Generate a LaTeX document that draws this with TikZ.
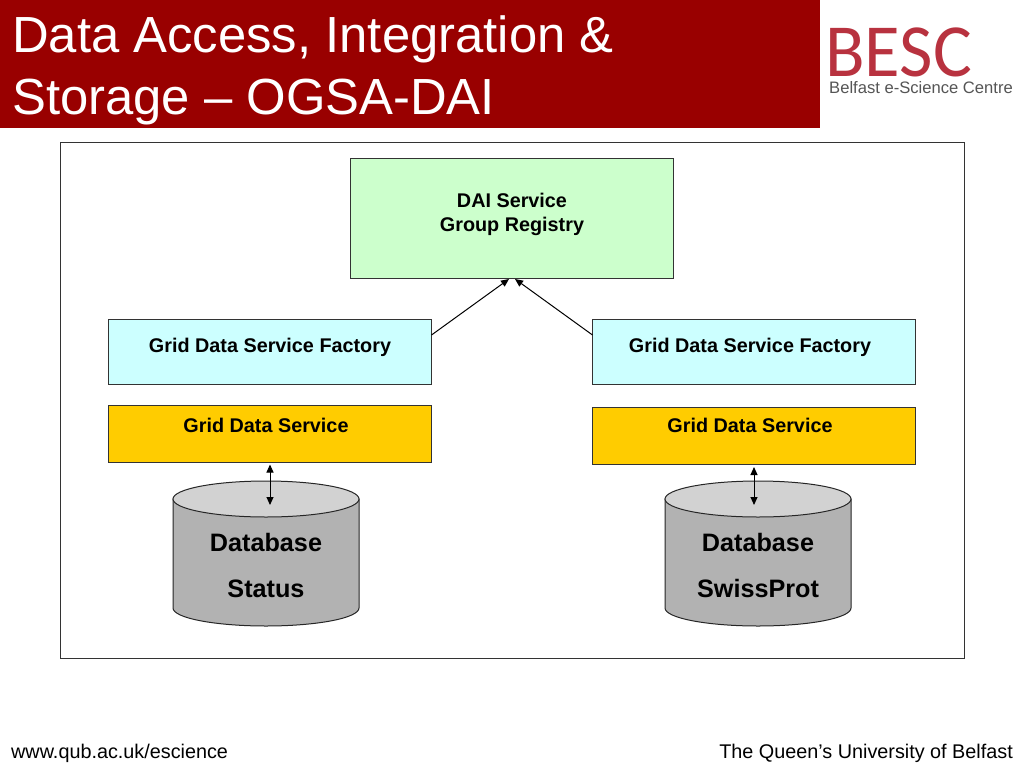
\documentclass[tikz,border=0pt]{standalone}
\usepackage{fontspec}
\setmainfont{Liberation Sans}
\newfontfamily\logofont{Carlito}
\usetikzlibrary{shapes.geometric,arrows.meta}
\definecolor{titlered}{HTML}{990000}
\definecolor{logored}{HTML}{B8323F}
\definecolor{logogrey}{HTML}{555555}
\definecolor{regfill}{HTML}{CCFFCC}
\definecolor{factoryfill}{HTML}{CCFFFF}
\definecolor{servicefill}{HTML}{FFCC00}
\definecolor{dbbody}{HTML}{B2B2B2}
\definecolor{dbtop}{HTML}{D2D2D2}
\tikzset{
  boxnode/.style={draw=black!80,line width=1pt,minimum width=323,minimum height=#1,inner sep=0},
  boxlabel/.style={anchor=base,inner sep=0,align=center,font=\bfseries\fontsize{19.8}{24}\selectfont},
  dbbarrel/.style={draw=black!85,line width=1pt,fill=dbbody},
  dbnode/.style={ellipse,draw=black!85,line width=1pt,fill=dbtop,minimum width=186,minimum height=36,inner sep=0},
  dblabel/.style={inner sep=0,align=center,font=\bfseries\fontsize{25.2}{46}\selectfont},
  link/.style={line width=1pt,black,-{Triangle[length=8pt,width=7pt]}},
  dblink/.style={line width=1pt,black,{Triangle[length=8pt,width=7pt]}-{Triangle[length=8pt,width=7pt]}},
  footer/.style={inner sep=0,font=\fontsize{19.8}{24}\selectfont}
}
\begin{document}
\begin{tikzpicture}[x=1pt,y=-1pt]
\useasboundingbox[fill=white] (0,0) rectangle (1024,768);
\fill[titlered] (0,0) rectangle (820,128);
\node[anchor=base west,inner sep=0,text=white,align=left,font=\fontsize{50.8}{62}\selectfont] (title) at (12,114.5) {Data Access, Integration \&\\Storage -- OGSA-DAI};
\node[anchor=base west,inner sep=0,text=logored,xscale=0.97,font=\logofont\fontsize{75}{75}\selectfont] (logo) at (825,76) {BESC};
\node[anchor=base east,inner sep=0,text=logogrey,font=\fontsize{16.6}{18}\selectfont] (logotext) at (1013,93) {Belfast e-Science Centre};
\draw[black!80,line width=0.9pt] (60,142) rectangle (964,658);
\node[boxnode=120,fill=regfill] (registry) at (512,218) {};
\node[boxnode=65,fill=factoryfill] (factoryL) at (270,352) {};
\node[boxnode=65,fill=factoryfill] (factoryR) at (754,352) {};
\node[boxnode=57,fill=servicefill] (serviceL) at (270,433.5) {};
\node[boxnode=57,fill=servicefill] (serviceR) at (754,436) {};
\node[boxlabel] (registrytext) at (512,231) {DAI Service\\Group Registry};
\node[boxlabel] (factoryLtext) at (270,352) {Grid Data Service Factory};
\node[boxlabel] (factoryRtext) at (750,352) {Grid Data Service Factory};
\node[boxlabel] (serviceLtext) at (266,432) {Grid Data Service};
\node[boxlabel] (serviceRtext) at (750,432) {Grid Data Service};
\draw[dbbarrel] (173,499) -- (173,608) arc[start angle=180,end angle=360,x radius=93pt,y radius=18pt] -- (359,499) -- cycle;
\draw[dbbarrel] (665,499) -- (665,608) arc[start angle=180,end angle=360,x radius=93pt,y radius=18pt] -- (851,499) -- cycle;
\node[dbnode] (dbL) at (266,499) {};
\node[dbnode] (dbR) at (758,499) {};
\node[dblabel] (dbLtext) at (266,565.5) {Database\\Status};
\node[dblabel] (dbRtext) at (758,565.5) {Database\\SwissProt};
\coordinate (regL) at (509,279);
\coordinate (regR) at (515,279);
\coordinate (outL) at (431.5,335);
\coordinate (outR) at (592.5,335);
\coordinate (inL) at (270,505);
\coordinate (inR) at (754,505);
\draw[link] (outL) -- (regL);
\draw[link] (outR) -- (regR);
\draw[dblink] ([yshift=-2pt]serviceL.south) -- (inL);
\draw[dblink] ([yshift=-2pt]serviceR.south) -- (inR);
\node[footer,anchor=base west] (site) at (11,758) {www.qub.ac.uk/escience};
\node[footer,anchor=base east] (queens) at (1013,758) {The Queen’s University of Belfast};
\end{tikzpicture}
\end{document}
